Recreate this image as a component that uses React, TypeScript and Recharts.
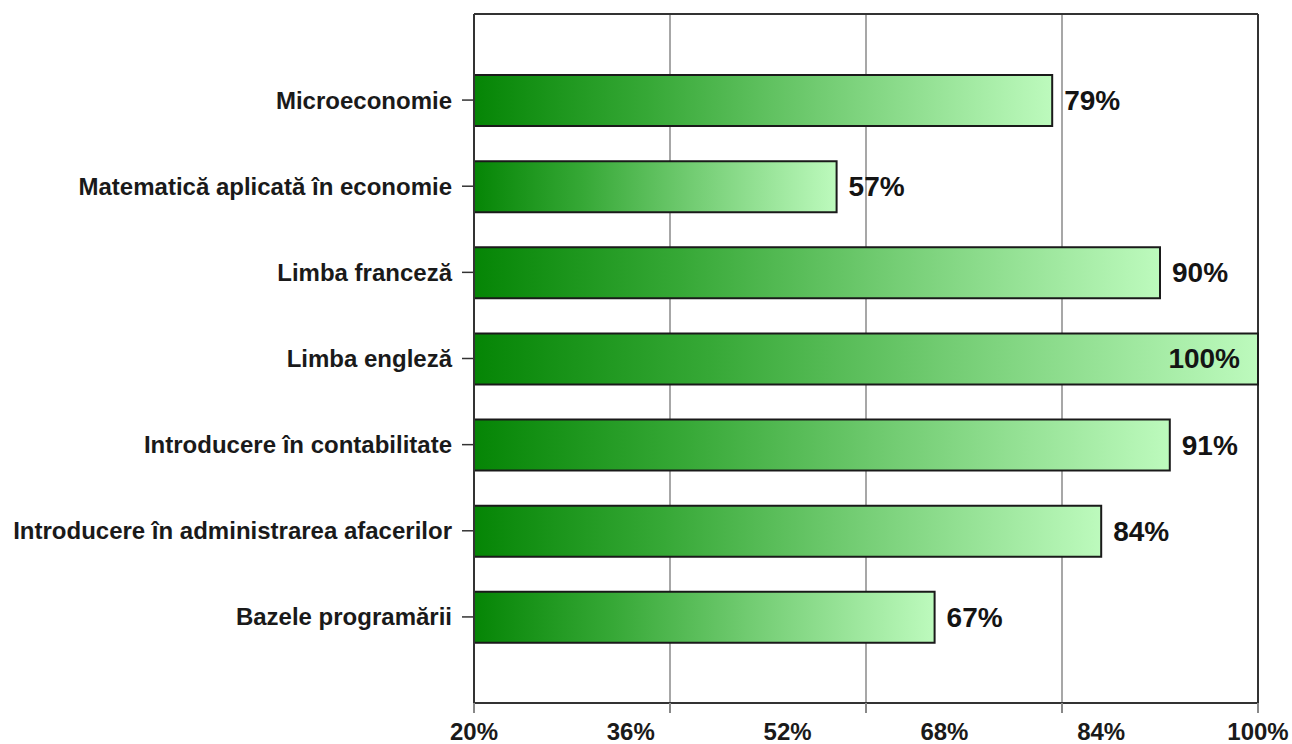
import { BarChart, Bar, XAxis, YAxis, CartesianGrid } from 'recharts'

const categories = [
  'Microeconomie',
  'Matematică aplicată în economie',
  'Limba franceză',
  'Limba engleză',
  'Introducere în contabilitate',
  'Introducere în administrarea afacerilor',
  'Bazele programării',
]
const values = [79, 57, 90, 100, 91, 84, 67]
// labels printed under the axis (evenly spaced)
const labelTicks = [20, 36, 52, 68, 84, 100]
// real gridline / tick-mark positions
const gridTicks = [20, 40, 60, 80, 100]
const xDomain = [20, 100]

const data = categories.map((name, i) => ({ name, value: values[i] }))

const font = '"Liberation Sans", Arial, sans-serif'
const allTicks = Array.from(new Set([...labelTicks, ...gridTicks])).sort((a, b) => a - b)

// eslint-disable-next-line @typescript-eslint/no-explicit-any
function ValueLabel(props: any) {
  const { x, y, width, height, value } = props
  const inside = value >= 100
  return (
    <text
      x={inside ? x + width - 18 : x + width + 12}
      y={y + height / 2}
      textAnchor={inside ? 'end' : 'start'}
      dominantBaseline="central"
      fontFamily={font}
      fontWeight="bold"
      fontSize={28}
      fill="#141414"
    >
      {`${value}%`}
    </text>
  )
}

// eslint-disable-next-line @typescript-eslint/no-explicit-any
function XTick(props: any) {
  const { x, y, payload } = props
  const v = payload.value
  return (
    <g>
      {gridTicks.includes(v) && <line x1={x} x2={x} y1={y} y2={y + 10} stroke="#888" strokeWidth={2} />}
      {labelTicks.includes(v) && (
        <text
          x={x}
          y={y + 20}
          dy="0.71em"
          textAnchor="middle"
          fontFamily={font}
          fontWeight="bold"
          fontSize={24}
          fill="#1a1a1a"
        >
          {`${v}%`}
        </text>
      )}
    </g>
  )
}

// eslint-disable-next-line @typescript-eslint/no-explicit-any
const gridGenerator = ({ offset }: any) => {
  if (!offset) return []
  return gridTicks
    .slice(1, -1)
    .map((v) => offset.left + ((v - xDomain[0]) / (xDomain[1] - xDomain[0])) * offset.width)
}
// eslint-disable-next-line @typescript-eslint/no-explicit-any
const frameRight = ({ offset }: any) => (offset ? [offset.left + offset.width] : [])
// eslint-disable-next-line @typescript-eslint/no-explicit-any
const frameTop = ({ offset }: any) => (offset ? [offset.top] : [])

export default function App() {
  return (
    <div style={{ position: 'absolute', left: 0, top: 0, background: '#fff' }}>
      <BarChart
        width={1292}
        height={744}
        data={data}
        layout="vertical"
        margin={{ top: 14, right: 34, left: 0, bottom: 0 }}
      >
        <defs>
          <linearGradient id="barGrad" x1="0" y1="0" x2="1" y2="0">
            <stop offset="0%" stopColor="#058505" />
            <stop offset="30%" stopColor="#36a836" />
            <stop offset="60%" stopColor="#72cc72" />
            <stop offset="100%" stopColor="#bdfabd" />
          </linearGradient>
        </defs>
        <CartesianGrid
          horizontal={false}
          vertical
          stroke="#8a8a8a"
          strokeWidth={1.5}
          verticalCoordinatesGenerator={gridGenerator}
        />
        <CartesianGrid
          horizontal
          vertical
          stroke="#333"
          strokeWidth={2}
          verticalCoordinatesGenerator={frameRight}
          horizontalCoordinatesGenerator={frameTop}
        />
        <XAxis
          type="number"
          domain={xDomain}
          ticks={allTicks}
          interval={0}
          height={41}
          axisLine={{ stroke: '#333', strokeWidth: 2 }}
          tickLine={false}
          tickSize={0}
          tickMargin={0}
          tick={<XTick />}
        />
        <YAxis
          type="category"
          dataKey="name"
          width={474}
          padding={{ top: 43, bottom: 43 }}
          interval={0}
          axisLine={{ stroke: '#333', strokeWidth: 2 }}
          tickLine={{ stroke: '#333', strokeWidth: 1.5 }}
          tickSize={12}
          tickMargin={10}
          tick={{ fontFamily: font, fontWeight: 'bold', fontSize: 24, fill: '#1a1a1a' }}
        />
        <Bar
          dataKey="value"
          barSize={51}
          fill="url(#barGrad)"
          stroke="#1a1a1a"
          strokeWidth={2}
          isAnimationActive={false}
          label={<ValueLabel />}
        />
      </BarChart>
    </div>
  )
}
